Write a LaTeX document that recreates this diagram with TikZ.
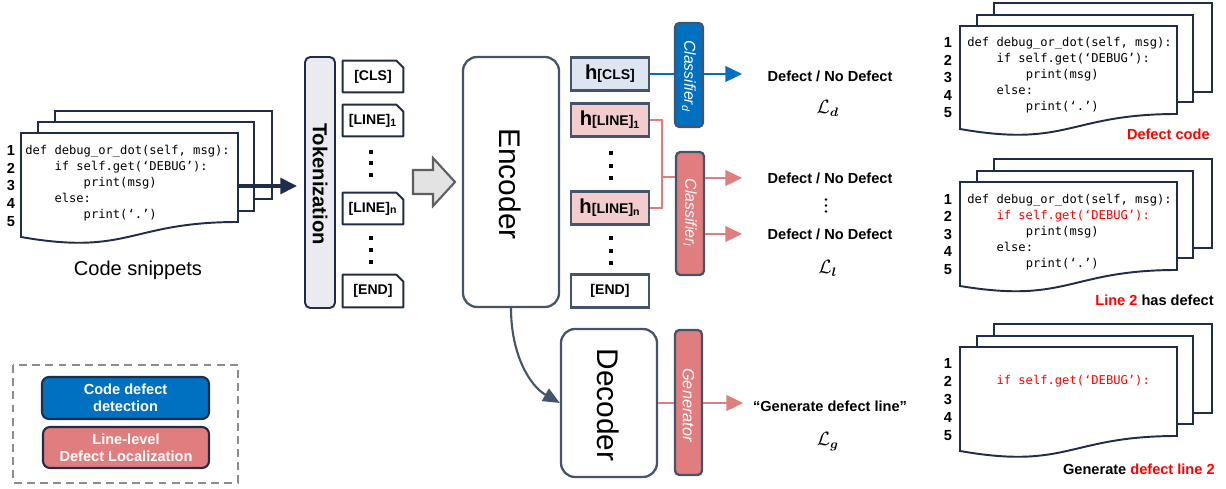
\documentclass[tikz,border=0pt]{standalone}
\usepackage{fontspec}
\setmainfont{Liberation Sans}
\setmonofont{DejaVu Sans Mono}
\usepackage{amsmath}
\usetikzlibrary{arrows.meta,backgrounds,calc}
\definecolor{navy}{HTML}{1F2D4A}
\definecolor{slate}{HTML}{44546A}
\definecolor{cblue}{HTML}{0070C0}
\definecolor{salmon}{HTML}{E07D7F}
\definecolor{pinkl}{HTML}{F3CDCD}
\definecolor{bluel}{HTML}{DCE5F0}
\definecolor{tokfill}{HTML}{E9EBF1}
\definecolor{codered}{HTML}{FF0000}
\definecolor{arrgray}{HTML}{5F5F5F}
\definecolor{arrfill}{HTML}{E3E3E3}
\definecolor{legdash}{HTML}{8C8C8C}
\newcommand{\ind}{\phantom{abcd}}
\newcommand{\hlab}[1]{\bfseries{\fontsize{11.5}{12}\selectfont h}{\fontsize{8}{9}\selectfont #1}}
\begin{document}
\begin{tikzpicture}[x=0.02cm,y=-0.02cm,
  wh/.style 2 args={minimum width={#1*0.02cm}, minimum height={#2*0.02cm}, inner sep=0pt},
  page/.style={draw=navy, line width=1.1pt, fill=white, line join=miter},
  num/.style={font=\fontsize{8.3}{10}\selectfont\bfseries, inner sep=0pt},
  code/.style={font=\fontsize{6.9}{8}\selectfont\ttfamily, anchor=base west, inner sep=0pt},
  lbl/.style={font=\fontsize{8.3}{10}\selectfont\bfseries, inner sep=0pt},
  tok/.style={font=\fontsize{8}{9}\selectfont\bfseries},
  tokline/.style={draw=navy, line width=1.1pt, fill=white, line join=round},
  hbox/.style={draw=slate, line width=1.3pt},
  bigbox/.style={draw=slate, line width=1.3pt, rounded corners=8pt, fill=white},
  vtext/.style={rotate=-90, inner sep=0pt},
  clsbox/.style={draw=slate, line width=1.3pt, rounded corners=2.5pt},
  bline/.style={draw=cblue, line width=1.1pt},
  pline/.style={draw=salmon, line width=1.1pt},
  tip/.style={-{Triangle[length=9.5pt,width=9pt]}},
  dot/.style={fill=black, minimum size=0.08cm, inner sep=0pt},
  rdot/.style={circle, fill=black, minimum size=0.056cm, inner sep=0pt},
  lossl/.style={font=\fontsize{10.5}{12}\selectfont, inner sep=0pt},
  legbox/.style={draw=navy, line width=1.2pt, rounded corners=4pt, text=white, align=center,
     font=\fontsize{8.3}{9.8}\selectfont\bfseries}
]
\useasboundingbox (0,0) rectangle (1226,489);

% ---------- left code snippet stack ----------
\draw[page] (55,111) rectangle (272,199);
\draw[page] (38,122) rectangle (254,211);
\draw[page] (21,133) -- (238,133) -- (238,222) .. controls (129.5,222) and (129.5,256) .. (21,237) -- cycle;
\foreach \i in {1,...,5} \node[num] (na\i) at (11,{150.7+(\i-1)*17.6}) {\i};
\node[code] (ca1) at (25,154.7) {def debug\_or\_dot(self, msg):};
\node[code] (ca2) at (25,170.7) {\ind if self.get(‘DEBUG’):};
\node[code] (ca3) at (25,186.7) {\ind\ind print(msg)};
\node[code] (ca4) at (25,202.7) {\ind else:};
\node[code] (ca5) at (25,218.7) {\ind\ind print(‘.’)};
\node[font=\fontsize{11.4}{13}\selectfont] (snip) at (138,270) {Code snippets};
\coordinate (cs) at (238,186);
\coordinate (ct) at (297,186);
\draw[draw=navy, line width=2pt, -{Triangle[length=9.5pt,width=9pt]}] (cs) -- (ct);

% ---------- tokenization ----------
\node[wh={30}{251}, draw=navy, line width=1.1pt, fill=tokfill, rounded corners=3pt] (tokbar) at (320,182.5) {};
\node[vtext, font=\fontsize{11.5}{13}\selectfont\bfseries] (tokt) at (320,184) {Tokenization};

\node[tok, wh={60}{31}] (tcls) at (373,76.5) {[CLS]};
\node[tok, wh={60}{31}] (tl1) at (373,120.5) {[LINE]\textsubscript{1}};
\node[tok, wh={60}{31}] (tln) at (373,208.5) {[LINE]\textsubscript{n}};
\node[tok, wh={60}{32}] (tend) at (373,291) {[END]};
\begin{scope}[on background layer]
\foreach \t in {tcls,tl1,tln,tend}
  \draw[tokline] (\t.south west) -- (\t.north west) -- ([xshift=-4pt]\t.north east)
     -- ([yshift=-4pt]\t.north east) -- (\t.south east) -- cycle;
\end{scope}
\foreach \y in {152,163,175,238,250,262} \node[dot] (td\y) at (371,\y) {};

% ---------- block arrow ----------
\draw[draw=arrgray, fill=arrfill, line width=1.2pt, line join=miter]
  (413,170) -- (433,170) -- (433,158) -- (455,182) -- (433,206) -- (433,194) -- (413,194) -- cycle;

% ---------- encoder ----------
\node[bigbox, wh={96}{250}] (enc) at (511,182) {};
\node[vtext, font=\fontsize{17}{19}\selectfont] (enct) at (510,184) {Encoder};

\node[hbox, fill=bluel, wh={78}{33}] (hcls) at (610,74) {\hlab{[CLS]}};
\node[hbox, fill=pinkl, wh={78}{33}] (hl1) at (610,120) {\hlab{[LINE]\textsubscript{1}}};
\node[hbox, fill=pinkl, wh={78}{33}] (hln) at (610,208) {\hlab{[LINE]\textsubscript{n}}};
\node[hbox, fill=white, wh={78}{33}, tok] (hend) at (610,291) {[END]};
\foreach \y in {153,166,178,238,251,263} \node[dot] (hd\y) at (611,\y) {};

% ---------- classifiers ----------
\node[clsbox, fill=cblue, wh={28}{104}] (cld) at (689,75) {};
\node[vtext, text=white, font=\fontsize{9}{10}\selectfont\itshape] (cldt) at (689,76) {Classifier\textsubscript{d}};
\node[clsbox, fill=salmon, wh={28}{123}] (cll) at (690,213.5) {};
\node[vtext, text=white, font=\fontsize{9}{10}\selectfont\itshape] (cllt) at (690,213) {Classifier\textsubscript{l}};

\coordinate (ad) at (742,74);
\coordinate (pj) at (662,177);
\coordinate (al1) at (742,178);
\coordinate (al2) at (742,234);
\begin{scope}[on background layer]
\draw[bline] (hcls.east) -- (hcls.east -| cld.west);
\draw[pline] (hl1.east) -- ++(12,0) |- (hln.east);
\draw[pline] (pj) -- (pj -| cll.west);
\end{scope}
\draw[bline, tip] (hcls.east -| cld.east) -- (ad);
\draw[pline, tip] (al1 -| cll.east) -- (al1);
\draw[pline, tip] (al2 -| cll.east) -- (al2);

\node[lbl] (o1) at (830,76) {Defect / No Defect};
\node[lossl] (ld) at (828,108) {$\mathcal{L}_{\boldsymbol{d}}$};
\node[lbl] (o2) at (830,178) {Defect / No Defect};
\foreach \y in {199.5,205.5,211.5} \node[rdot] (vd\y) at (826,\y) {};
\node[lbl] (o3) at (830,234) {Defect / No Defect};
\node[lossl] (ll) at (828,268) {$\mathcal{L}_{\boldsymbol{l}}$};

% ---------- decoder ----------
\node[bigbox, wh={96}{148}] (dec) at (609,403) {};
\node[vtext, font=\fontsize{17}{19}\selectfont] (dect) at (608,405) {Decoder};
\coordinate (ag) at (743,403);
\draw[pline, tip] (dec.east) -- (ag);
\node[clsbox, fill=salmon, wh={27}{145}] (gen) at (688.5,402.5) {};
\node[vtext, text=white, font=\fontsize{9.3}{10}\selectfont\itshape] (gent) at (688.5,405) {Generator};
\node[lbl] (o4) at (830,406) {“Generate defect line”};
\node[lossl] (lg) at (828,442) {$\mathcal{L}_{\boldsymbol{g}}$};
\draw[draw=slate, line width=1.2pt, -{Triangle[length=9.5pt,width=8pt]}]
  (enc.south) .. controls (511,355) and (530,386) .. (dec.west);

% ---------- legend ----------
\draw[draw=legdash, line width=1.1pt, dash pattern=on 4.5pt off 3pt] (13,365) rectangle (238,483);
\node[legbox, fill=cblue, wh={167}{42}] (lgd) at (125.5,398) {Code defect\\detection};
\node[legbox, fill=salmon, wh={166}{41}] (lgl) at (126,447.5) {Line-level\\Defect Localization};

% ---------- right: defect code ----------
\draw[page] (994,3) rectangle (1212,92);
\draw[page] (977,15) rectangle (1193,102);
\draw[page] (960,26) -- (1177,26) -- (1177,114) .. controls (1068.5,114) and (1068.5,148) .. (960,129) -- cycle;
\foreach \i in {1,...,5} \node[num] (nb\i) at (948,{42.7+(\i-1)*17.55}) {\i};
\node[code] (cb1) at (967,47) {def debug\_or\_dot(self, msg):};
\node[code] (cb2) at (967,63) {\ind if self.get(‘DEBUG’):};
\node[code] (cb3) at (967,79) {\ind\ind print(msg)};
\node[code] (cb4) at (967,95) {\ind else:};
\node[code] (cb5) at (967,111) {\ind\ind print(‘.’)};
\node[lbl, text=codered, anchor=east] (dcode) at (1210,134) {Defect code};

% ---------- right: line 2 has defect ----------
\draw[page] (994,159) rectangle (1212,248);
\draw[page] (977,171) rectangle (1193,258);
\draw[page] (960,182) -- (1177,182) -- (1177,270) .. controls (1068.5,270) and (1068.5,304) .. (960,286) -- cycle;
\foreach \i in {1,...,5} \node[num] (nc\i) at (948,{199.3+(\i-1)*17.5}) {\i};
\node[code] (cc1) at (967,203.3) {def debug\_or\_dot(self, msg):};
\node[code, text=codered] (cc2) at (967,219.3) {\ind if self.get(‘DEBUG’):};
\node[code] (cc3) at (967,235.3) {\ind\ind print(msg)};
\node[code] (cc4) at (967,251.3) {\ind else:};
\node[code] (cc5) at (967,267.3) {\ind\ind print(‘.’)};
\node[lbl, anchor=east] (l2d) at (1214,300) {\textcolor{codered}{Line 2} has defect};

% ---------- right: generate defect line ----------
\draw[page] (994,324) rectangle (1212,413);
\draw[page] (977,336) rectangle (1193,424);
\draw[page] (960,347) -- (1177,347) -- (1177,436) .. controls (1068.5,436) and (1068.5,470) .. (960,451) -- cycle;
\foreach \i in {1,...,5} \node[num] (nd\i) at (948,{363.3+(\i-1)*18.1}) {\i};
\node[code, text=codered] (cd2) at (967,384) {\ind if self.get(‘DEBUG’):};
\node[lbl, anchor=east] (gdl) at (1215,469) {Generate \textcolor{codered}{defect line 2}};
\end{tikzpicture}
\end{document}
